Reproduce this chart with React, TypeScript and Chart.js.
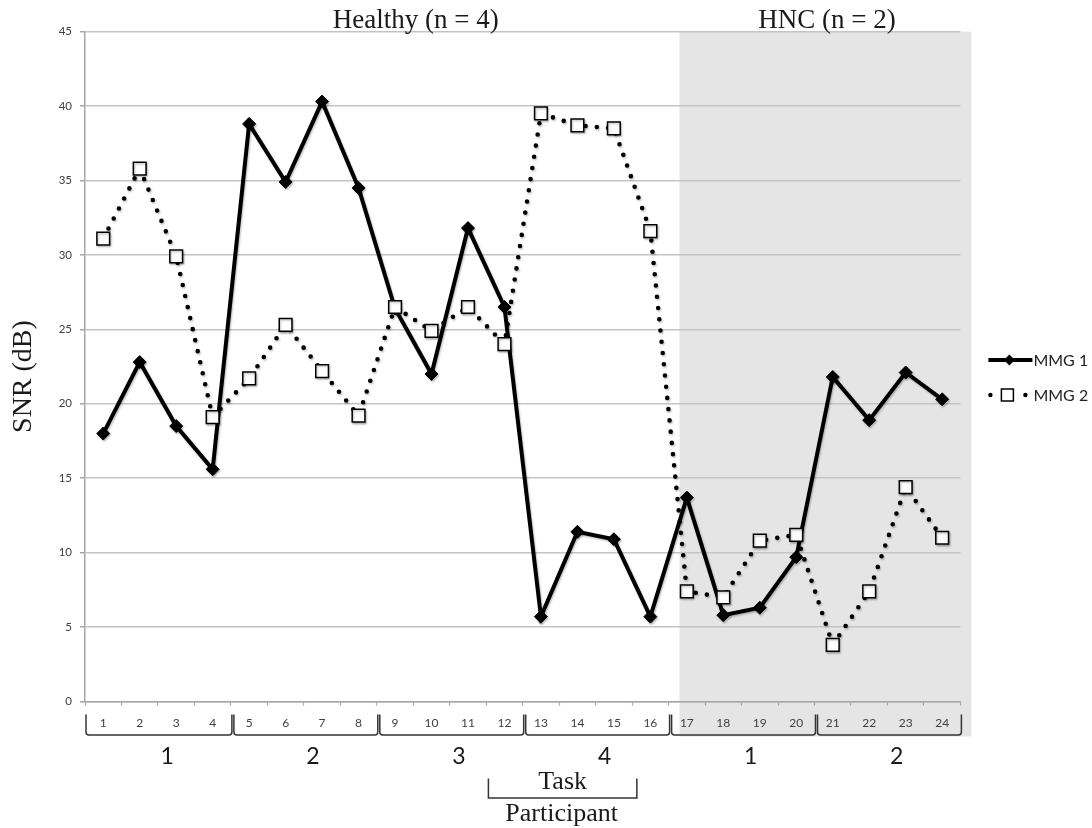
import React, { useEffect, useRef } from 'react';
import { Chart, registerables } from 'chart.js';

Chart.register(...registerables);

// ---- data ----
const categories = ['1', '2', '3', '4', '5', '6', '7', '8', '9', '10', '11', '12', '13', '14', '15', '16', '17', '18', '19', '20', '21', '22', '23', '24'];
const mmg1 = [18.0, 22.8, 18.5, 15.6, 38.8, 34.9, 40.3, 34.5, 26.4, 22.0, 31.8, 26.5, 5.7, 11.4, 10.9, 5.7, 13.7, 5.8, 6.3, 9.7, 21.8, 18.9, 22.1, 20.3];
const mmg2 = [31.1, 35.8, 29.9, 19.1, 21.7, 25.3, 22.2, 19.2, 26.5, 24.9, 26.5, 24.0, 39.5, 38.7, 38.5, 31.6, 7.4, 7.0, 10.8, 11.2, 3.8, 7.4, 14.4, 11.0];
const yTicks = [0, 5, 10, 15, 20, 25, 30, 35, 40, 45];
const participantLabels = ['1', '2', '3', '4', '1', '2'];
const cohortTitles = ['Healthy (n = 4)', 'HNC (n = 2)'];
const seriesNames = ['MMG 1', 'MMG 2'];
const yAxisTitle = 'SNR (dB)';
const taskLabel = 'Task';
const participantLabel = 'Participant';

const SERIF = '"Liberation Serif", "Times New Roman", serif';
const SANS = 'Lato, "Open Sans", sans-serif';
const GROUP = 4;

const annotations = {
  id: 'annotations',
  beforeDraw(chart: any) {
    const { ctx, chartArea: ca } = chart;
    const x = chart.scales.x;
    const left = x.getPixelForValue(15.8);
    const right = x.getPixelForValue(23.8);
    ctx.save();
    ctx.fillStyle = '#e5e5e5';
    ctx.fillRect(left, ca.top, right - left, ca.bottom + 35 - ca.top);
    ctx.restore();
  },
  beforeDatasetsDraw(chart: any) {
    const ctx = chart.ctx;
    ctx.save();
    ctx.shadowColor = 'rgba(0,0,0,0.25)';
    ctx.shadowBlur = 2;
    ctx.shadowOffsetX = 1;
    ctx.shadowOffsetY = 1.5;
  },
  afterDatasetsDraw(chart: any) {
    chart.ctx.restore();
  },
  afterDraw(chart: any) {
    const { ctx, chartArea: ca } = chart;
    const x = chart.scales.x;
    ctx.save();
    // cohort titles
    ctx.fillStyle = '#1a1a1a';
    ctx.font = `27px ${SERIF}`;
    ctx.textAlign = 'center';
    ctx.textBaseline = 'alphabetic';
    ctx.fillText(cohortTitles[0], x.getPixelForValue(8.57), ca.top - 3.5);
    ctx.fillText(cohortTitles[1], x.getPixelForValue(19.84), ca.top - 3.5);

    // y axis title
    ctx.save();
    ctx.translate(24, (ca.top + ca.bottom) / 2 + 10);
    ctx.rotate(-Math.PI / 2);
    ctx.font = `28px ${SERIF}`;
    ctx.textAlign = 'center';
    ctx.textBaseline = 'middle';
    ctx.fillText(yAxisTitle, 0, 0);
    ctx.restore();

    // participant brackets
    ctx.strokeStyle = '#333333';
    ctx.lineWidth = 1.5;
    const top = ca.bottom + 13;
    const bot = ca.bottom + 33.5;
    for (let g = 0; g < participantLabels.length; g++) {
      const L = x.getPixelForValue(g * GROUP - 0.5) + (g === 0 ? 1 : 3);
      const R = x.getPixelForValue((g + 1) * GROUP - 0.5) + 1;
      ctx.beginPath();
      ctx.moveTo(L, top);
      ctx.lineTo(L, bot - 3);
      ctx.quadraticCurveTo(L, bot, L + 3, bot);
      ctx.lineTo(R - 3, bot);
      ctx.quadraticCurveTo(R, bot, R, bot - 3);
      ctx.lineTo(R, top);
      ctx.stroke();
    }
    ctx.font = `23px ${SANS}`;
    ctx.textAlign = 'center';
    ctx.textBaseline = 'middle';
    ctx.fillStyle = '#1a1a1a';
    participantLabels.forEach((lab, g) => {
      ctx.fillText(lab, x.getPixelForValue(g * GROUP + 1.5 + 0.25), ca.bottom + 55);
    });

    // Task / Participant bracket
    const tL = x.getPixelForValue(10.56);
    const tR = x.getPixelForValue(14.63);
    const tTop = ca.bottom + 77;
    const tBot = ca.bottom + 96.5;
    ctx.beginPath();
    ctx.moveTo(tL, tTop);
    ctx.lineTo(tL, tBot);
    ctx.lineTo(tR, tBot);
    ctx.lineTo(tR, tTop);
    ctx.stroke();
    ctx.font = `26px ${SERIF}`;
    ctx.textBaseline = 'alphabetic';
    ctx.fillText(taskLabel, (tL + tR) / 2, ca.bottom + 87.5);
    ctx.fillText(participantLabel, (tL + tR) / 2 - 1, ca.bottom + 119);

    // legend
    const lx = ca.right + 28;
    const y1 = 360;
    const y2 = 395;
    ctx.strokeStyle = '#000';
    ctx.lineWidth = 4;
    ctx.beginPath();
    ctx.moveTo(lx, y1);
    ctx.lineTo(lx + 44, y1);
    ctx.stroke();
    ctx.fillStyle = '#000';
    ctx.beginPath();
    ctx.moveTo(lx + 21, y1 - 5.5);
    ctx.lineTo(lx + 26.5, y1);
    ctx.lineTo(lx + 21, y1 + 5.5);
    ctx.lineTo(lx + 15.5, y1);
    ctx.closePath();
    ctx.fill();
    ctx.beginPath();
    ctx.arc(lx + 2, y2, 2.2, 0, Math.PI * 2);
    ctx.fill();
    ctx.beginPath();
    ctx.arc(lx + 37, y2, 2.2, 0, Math.PI * 2);
    ctx.fill();
    ctx.fillStyle = '#fff';
    ctx.lineWidth = 1.5;
    ctx.fillRect(lx + 13, y2 - 6, 12, 12);
    ctx.strokeRect(lx + 13, y2 - 6, 12, 12);
    ctx.fillStyle = '#222';
    ctx.font = `16px ${SANS}`;
    ctx.textAlign = 'left';
    ctx.textBaseline = 'middle';
    ctx.fillText(seriesNames[0], lx + 45, y1 + 1);
    ctx.fillText(seriesNames[1], lx + 45, y2 + 1);
    ctx.restore();
  },
};

export default function App() {
  const ref = useRef<HTMLCanvasElement | null>(null);
  useEffect(() => {
    if (!ref.current) return;
    const chart = new Chart(ref.current, {
      type: 'line',
      data: {
        labels: categories,
        datasets: [
          {
            label: seriesNames[0],
            data: mmg1,
            order: 1,
            borderColor: '#000',
            backgroundColor: '#000',
            borderWidth: 4,
            tension: 0,
            pointStyle: 'rectRot',
            pointRadius: 6.5,
            pointBackgroundColor: '#000',
            pointBorderColor: '#000',
            pointBorderWidth: 1,
            clip: false as any,
          },
          {
            label: seriesNames[1],
            data: mmg2,
            order: 0,
            borderColor: '#000',
            backgroundColor: '#fff',
            borderWidth: 4.6,
            borderDash: [0, 11.3],
            borderCapStyle: 'round',
            tension: 0,
            pointStyle: 'rect',
            pointRadius: 9,
            pointBackgroundColor: '#fff',
            pointBorderColor: '#000',
            pointBorderWidth: 1.5,
            clip: false as any,
          },
        ],
      },
      options: {
        responsive: false,
        animation: false,
        devicePixelRatio: 1,
        layout: { padding: { left: 0, top: 31.6, right: 131.6, bottom: 0 } },
        plugins: { legend: { display: false }, tooltip: { enabled: false } },
        scales: {
          x: {
            type: 'category',
            offset: true,
            afterFit: (s: any) => { s.height = 126.5; },
            grid: {
              display: true,
              offset: true,
              drawOnChartArea: false,
              drawTicks: true,
              tickLength: 4,
              tickColor: '#a6a6a6',
              tickWidth: 1.2,
            },
            border: { display: true, color: '#a6a6a6', width: 1.5 },
            ticks: {
              autoSkip: false,
              maxRotation: 0,
              padding: 10,
              color: '#404040',
              font: { family: SANS, size: 12 },
            },
          },
          y: {
            min: 0,
            max: 45,
            afterFit: (s: any) => { s.width = 85; },
            afterBuildTicks: (s: any) => { s.ticks = yTicks.map((v) => ({ value: v })); },
            grid: {
              color: '#c4c4c4',
              lineWidth: 1.5,
              tickLength: 5,
              tickColor: '#a6a6a6',
            },
            border: { display: true, color: '#a6a6a6', width: 1.5 },
            ticks: {
              padding: 8,
              color: '#404040',
              font: { family: SANS, size: 11.5 },
            },
          },
        },
      },
      plugins: [annotations],
    });
    return () => chart.destroy();
  }, []);
  return (
    <div style={{ position: 'absolute', left: 0, top: 0, width: 1092, height: 828, background: '#fff' }}>
      <canvas ref={ref} width={1092} height={828} style={{ width: 1092, height: 828, display: 'block' }} />
    </div>
  );
}
